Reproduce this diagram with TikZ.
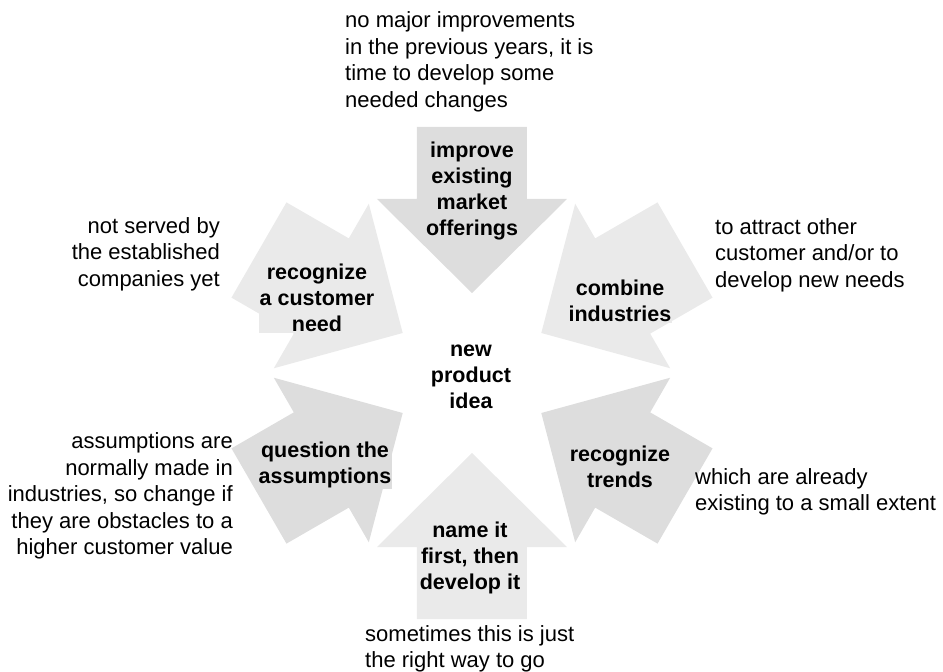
\documentclass[tikz,border=0pt]{standalone}
\usepackage{fontspec}
\setmainfont{Liberation Sans}
\usepackage{xcolor}
\usetikzlibrary{positioning}
\definecolor{arrowdark}{HTML}{DDDDDD}
\definecolor{arrowlight}{HTML}{EAEAEA}
\begin{document}
\begin{tikzpicture}[x=1pt, y=1pt,
  idea/.style={font=\fontsize{21.5}{26}\selectfont\bfseries, align=center, inner sep=1pt},
  note/.style={font=\fontsize{22}{26.5}\selectfont, inner sep=0pt}]
  \useasboundingbox (-472,-299) rectangle (471,373);

  % Arrows pointing to the centre
  \foreach \a/\c in {90/arrowdark, 30/arrowlight, -30/arrowdark, -90/arrowlight, 210/arrowdark, 150/arrowlight} {
    \fill[\c, rotate=\a] (80,0) -- (174,95) -- (174,55) -- (246,55)
      -- (246,-55) -- (174,-55) -- (174,-95) -- cycle;
  }

  % Labels in the arrows
  \node[idea] (centre) at (-1,-4) {new\\product\\idea};
  \node[idea, fill=arrowdark] (improve) at (0,182) {improve\\existing\\market\\offerings};
  \node[idea, fill=arrowlight] (combine) at (148,72) {combine\\industries};
  \node[idea, fill=arrowdark] (trends) at (148,-94) {recognize\\trends};
  \node[idea, fill=arrowlight] (nameit) at (-2,-185) {name it\\first, then\\develop it};
  \node[idea, fill=arrowdark] (question) at (-147,-92) {question the\\assumptions};
  \node[idea, fill=arrowlight] (need) at (-155,75) {recognize\\a customer\\need};

  % Explanations
  \node[note, anchor=west, align=left] (improvenote) at (-127,311)
    {no major improvements\\in the previous years, it is\\time to develop some\\needed changes};
  \node[note, anchor=west, align=left] (combinenote) at (243,118)
    {to attract other\\customer and/or to\\develop new needs};
  \node[note, anchor=west, align=left] (trendsnote) at (223,-119)
    {which are already\\existing to a small extent};
  \node[note, anchor=west, align=left] (nameitnote) at (-107,-276)
    {sometimes this is just\\the right way to go};
  \node[note, anchor=east, align=right] (questionnote) at (-239,-123)
    {assumptions are\\normally made in\\industries, so change if\\they are obstacles to a\\higher customer value};
  \node[note, anchor=east, align=right] (neednote) at (-252,119)
    {not served by\\the established\\companies yet};
\end{tikzpicture}
\end{document}
